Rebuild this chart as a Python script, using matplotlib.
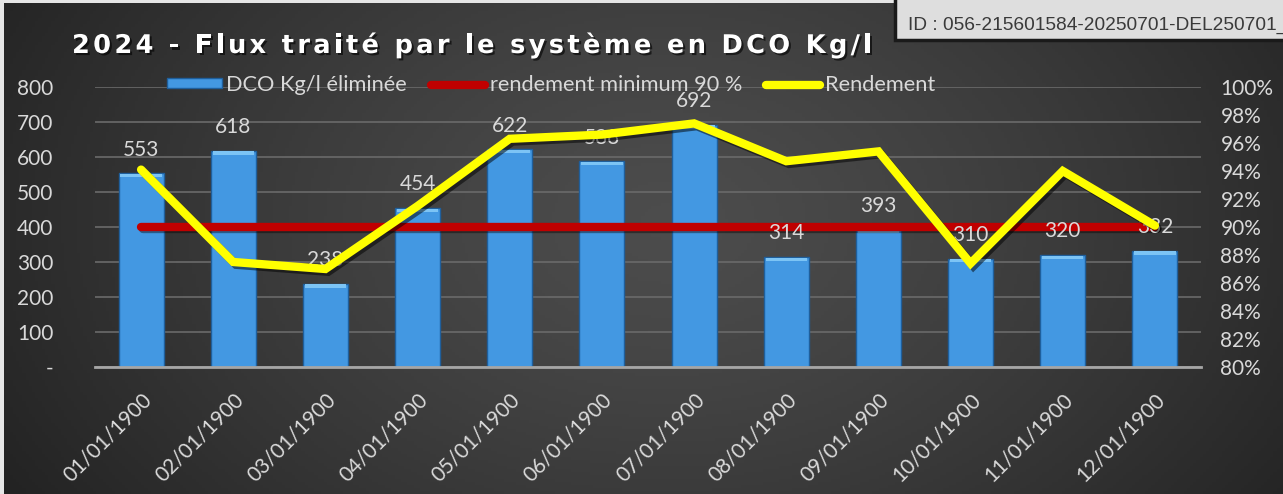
import numpy as np
import matplotlib
matplotlib.use("Agg")
import matplotlib.pyplot as plt
import matplotlib.patheffects as pe
from matplotlib.lines import Line2D
from matplotlib.patches import Patch, Rectangle
from matplotlib.ticker import FuncFormatter, MultipleLocator

# ---------------- data ----------------
categories = ["01/01/1900", "02/01/1900", "03/01/1900", "04/01/1900",
              "05/01/1900", "06/01/1900", "07/01/1900", "08/01/1900",
              "09/01/1900", "10/01/1900", "11/01/1900", "12/01/1900"]
dco_eliminee = [553, 618, 238, 454, 622, 588, 692, 314, 393, 310, 320, 332]
rendement_min = [0.90] * 12
rendement = [0.941, 0.875, 0.870, 0.915, 0.963, 0.966, 0.974, 0.947,
             0.954, 0.874, 0.940, 0.901]

title = "2024 - Flux traité par le système en DCO Kg/l"
legend_labels = ["DCO Kg/l éliminée", "rendement minimum 90 %", "Rendement"]
id_text = "ID : 056-215601584-20250701-DEL250701_0"

FONT = ["Lato", "DejaVu Sans"]
TXT = "#d9d9d9"
BLUE = "#4398e2"
BLUE_EDGE = "#1f5f9c"
RED = "#c00000"
YELLOW = "#ffff00"

W, H = 1283, 494
fig = plt.figure(figsize=(W / 100, H / 100), dpi=100)

# ---------------- background gradient ----------------
bg = fig.add_axes([0, 0, 1, 1], zorder=-10)
xx = np.linspace(0, 1, 400)
yy = np.linspace(0, 1, 160)
X, Y = np.meshgrid(xx, yy)
d = np.sqrt(((X - 0.52) / 0.62) ** 2 + ((Y - 0.55) / 1.1) ** 2)
v = 0.30 - 0.17 * np.clip(d, 0, 1) ** 1.3
img = np.dstack([v, v, v])
bg.imshow(img, extent=[0, 1, 0, 1], aspect="auto", origin="lower")
bg.set_xlim(0, 1); bg.set_ylim(0, 1)
bg.axis("off")
bg.add_patch(Rectangle((0, 0), 4 / W, 1, color="#e6e6e6", lw=0))
bg.add_patch(Rectangle((0, 1 - 3 / H), 1, 3 / H, color="#e6e6e6", lw=0))

# ---------------- axes ----------------
left, right = 95 / W, 1201 / W
bottom, top = (H - 367) / H, (H - 87) / H
ax = fig.add_axes([left, bottom, right - left, top - bottom])
ax.patch.set_alpha(0)
ax2 = ax.twinx()
ax2.patch.set_alpha(0)

x = np.arange(len(categories))

ax.set_ylim(0, 800)
ax.yaxis.set_major_locator(MultipleLocator(100))
ax.grid(axis="y", color="#6a6a6a", lw=1.2, zorder=0)
ax.set_axisbelow(True)

# bars with bevel on top
ax.bar(x, dco_eliminee, width=0.49, color=BLUE, edgecolor=BLUE_EDGE,
       linewidth=1.0, zorder=2)
bevel = np.full(len(dco_eliminee), 9.0)
ax.bar(x, bevel, width=0.45, bottom=np.array(dco_eliminee) - bevel - 2,
       color="#7cc4f5", edgecolor="none", zorder=3)

ax.set_xlim(-0.5, len(categories) - 0.5)
ax2.set_ylim(0.80, 1.00)
ax2.yaxis.set_major_locator(MultipleLocator(0.02))

# red minimum line
ax2.plot(x, rendement_min, color=RED, lw=6, solid_capstyle="round", zorder=4,
         path_effects=[pe.SimpleLineShadow(offset=(1.5, -1.5), alpha=0.4),
                       pe.Normal()])

# data labels (above bars)
for xi, v_ in zip(x, dco_eliminee):
    ax2.annotate(f"{v_:d}", xy=(xi, v_), xycoords=ax.transData,
                 xytext=(0, 17), textcoords="offset points",
                 ha="center", va="center", color=TXT, fontsize=15,
                 family=FONT, zorder=5)

# yellow rendement line
ax2.plot(x, rendement, color=YELLOW, lw=6, solid_joinstyle="miter",
         solid_capstyle="round", zorder=6,
         path_effects=[pe.SimpleLineShadow(offset=(2, -2), alpha=0.5),
                       pe.Normal()])

# ticks
ax.yaxis.set_major_formatter(FuncFormatter(lambda v_, p: "-" if v_ == 0 else f"{v_:.0f}"))
ax2.yaxis.set_major_formatter(FuncFormatter(lambda v_, p: f"{v_ * 100:.0f}%"))
ax.set_xticks(x)
ax.set_xticklabels(categories, rotation=45, ha="right", rotation_mode="anchor",
                   color=TXT, fontsize=15, family=FONT)
ax.tick_params(axis="x", length=0, pad=16)
ax.tick_params(axis="y", length=0, pad=30, labelcolor=TXT, labelsize=15)
ax2.tick_params(axis="y", length=0, pad=14, labelcolor=TXT, labelsize=15)
for lab in ax.get_yticklabels() + ax2.get_yticklabels():
    lab.set_family(FONT)
for a in (ax, ax2):
    for s in a.spines.values():
        s.set_visible(False)
ax.spines["bottom"].set_visible(True)
ax.spines["bottom"].set_color("#a6a6a6")
ax.spines["bottom"].set_linewidth(2)

# legend
handles = [Patch(facecolor=BLUE, edgecolor=BLUE_EDGE),
           Line2D([], [], color=RED, lw=6, solid_capstyle="round"),
           Line2D([], [], color=YELLOW, lw=6, solid_capstyle="round")]
leg = fig.legend(handles, legend_labels, loc="center", ncol=3,
                 bbox_to_anchor=(551 / W, 1 - 85 / H), frameon=False,
                 handlelength=2.5, handleheight=0.35, handletextpad=0.2,
                 columnspacing=1.1, borderpad=0.1,
                 prop={"family": FONT, "size": 15.7})
for t in leg.get_texts():
    t.set_color(TXT)

# title with letter spacing (one text per character)
renderer = fig.canvas.get_renderer()
tprops = dict(fontsize=18.5, fontweight="bold",
              family=["DejaVu Sans"])
def _w(s):
    t = fig.text(0, 0, s, **tprops)
    w = t.get_window_extent(renderer).width
    t.remove()
    return w
ref_w = _w("xx")
adv = [_w("x" + c + "x") - ref_w for c in title]
t_left, t_right = 72, 872
natural = sum(adv[:-1]) + _w(title[-1])
gap = (t_right - t_left - natural) / (len(title) - 1)
cx = t_left
for c, a in zip(title, adv):
    if c != " ":
        fig.text(cx / W, 1 - 53 / H, c, ha="left", va="baseline", color="white",
                 path_effects=[pe.withSimplePatchShadow(offset=(1.5, -1.5),
                                                       shadow_rgbFace="black",
                                                       alpha=0.6)],
                 **tprops)
    cx += a + gap

# ID box
fig.patches.append(Rectangle((895 / W, 1 - 40 / H), (W - 895 + 5) / W, 45 / H,
                             transform=fig.transFigure, facecolor="#dedede",
                             edgecolor="#1a1a1a", linewidth=2.5, zorder=20))
fig.text(908 / W, 1 - 25 / H, id_text, ha="left", va="center", color="#3a3a3a",
         fontsize=13.8, family=["Liberation Sans", "DejaVu Sans"], zorder=21)

fig.savefig("out.png", dpi=100)
